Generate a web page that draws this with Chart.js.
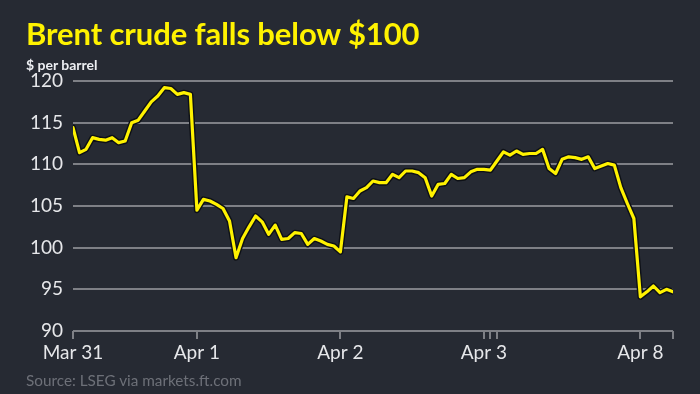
<!DOCTYPE html>
<html><head><meta charset="utf-8">
<script src="https://cdn.jsdelivr.net/npm/chart.js@4/dist/chart.umd.min.js"></script>
<style>
html,body{margin:0;padding:0;background:#262a33;}
#wrap{position:relative;width:700px;height:394px;overflow:hidden;background:#262a33;}
#c{position:absolute;left:0;top:0;}
.t{position:absolute;white-space:nowrap;font-family:Lato,"Open Sans",sans-serif;}
#title{left:26px;top:14px;font-size:31px;font-weight:700;color:#fff200;letter-spacing:-0.1px;}
#sub{left:26px;top:56px;font-size:14px;font-weight:700;color:#eceef2;}
#src{left:26px;top:371px;font-size:15.3px;color:#6d7078;}
</style></head>
<body><div id="wrap">
<canvas id="c" width="700" height="394"></canvas>
<div class="t" id="title">Brent crude falls below $100</div>
<div class="t" id="sub">$ per barrel</div>
<div class="t" id="src">Source: LSEG via markets.ft.com</div>
</div>
<script>
// Brent price, roughly hourly trading points (index = trading hour)
const prices = [114.4,111.4,111.8,113.2,113.0,112.9,113.2,112.6,112.8,115.0,115.3,116.4,117.5,118.2,119.2,119.1,118.4,118.6,118.4,
104.5,105.8,105.6,105.2,104.7,103.2,98.8,101.1,102.5,103.8,103.1,101.6,102.7,101.0,101.1,101.8,101.7,100.4,101.1,100.8,100.4,100.2,99.5,
106.1,105.9,106.8,107.2,108.0,107.8,107.8,108.8,108.4,109.2,109.2,109.0,108.4,106.2,107.6,107.7,108.8,108.3,108.4,
109.1,109.4,109.4,109.3,110.4,111.5,111.1,111.6,111.2,111.3,111.3,111.8,109.5,108.9,110.6,110.9,110.8,110.6,110.9,109.5,109.8,110.1,109.9,107.2,105.3,103.5,
94.1,94.7,95.4,94.6,95.0,94.7];
const hours = prices.map((_, i) => i);
const tickHours = [0, 19, 41, 63, 64, 65, 87, 92];
const tickLabels = ['Mar 31', 'Apr 1', 'Apr 2', 'Apr 3', '', '', 'Apr 8', ''];
const yTicks = [90, 95, 100, 105, 110, 115, 120];

const pts = hours.map((h, i) => ({x: h, y: prices[i]}));
const gridCol = '#7e8086';
new Chart(document.getElementById('c'), {
  type: 'line',
  data: {
    datasets: [
      {data: pts, borderColor: '#fff200', borderWidth: 3.2, pointRadius: 0, tension: 0, order: 0, borderJoinStyle: 'round', borderCapStyle: 'round'},
      {data: pts, borderColor: '#0d1016', borderWidth: 6, pointRadius: 0, tension: 0, order: 1, borderJoinStyle: 'round', borderCapStyle: 'round'}
    ]
  },
  options: {
    responsive: false, animation: false,
    layout: {padding: {left: 0, right: 27, top: 81, bottom: 29}},
    plugins: {legend: {display: false}, tooltip: {enabled: false}},
    scales: {
      x: {
        type: 'linear', min: hours[0], max: hours[hours.length - 1],
        afterBuildTicks: s => { s.ticks = tickHours.map(v => ({value: v})); },
        afterFit: s => { s.height = 34; },
        grid: {display: true, drawOnChartArea: false, drawTicks: true, tickLength: 8, color: gridCol, lineWidth: 2},
        border: {display: false},
        ticks: {autoSkip: false, maxRotation: 0, padding: 2, color: '#e6e7ea',
          font: {family: 'Lato', size: 19},
          callback: v => { const k = tickHours.indexOf(v); return k >= 0 ? tickLabels[k] : ''; }}
      },
      y: {
        min: yTicks[0], max: yTicks[yTicks.length - 1],
        afterBuildTicks: s => { s.ticks = yTicks.map(v => ({value: v})); },
        afterFit: s => { s.width = 73; },
        grid: {color: gridCol, lineWidth: 2, drawTicks: false},
        border: {display: false},
        ticks: {padding: 10, color: '#e6e7ea', font: {family: 'Lato', size: 19}}
      }
    }
  }
});
</script>
</body></html>
